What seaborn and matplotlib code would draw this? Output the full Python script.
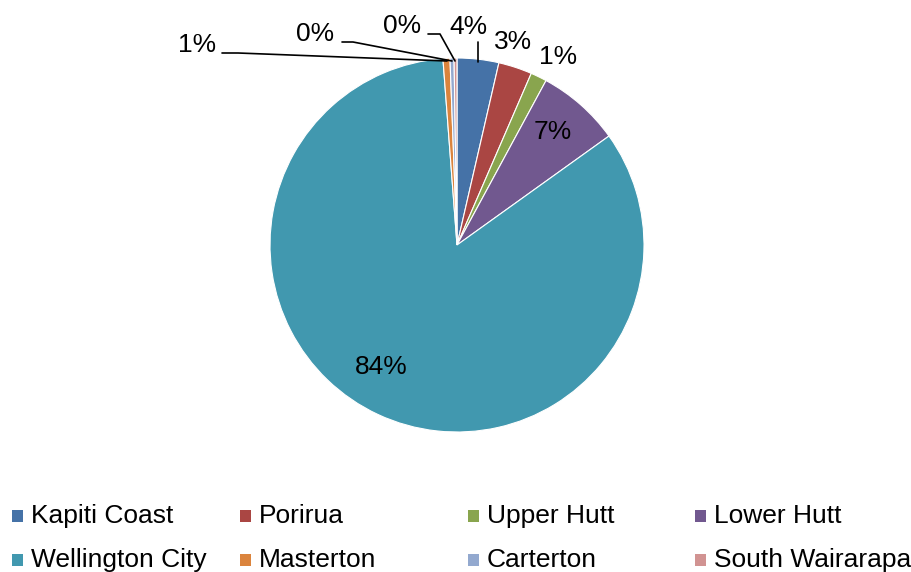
import matplotlib
matplotlib.use("Agg")
import matplotlib.pyplot as plt
import matplotlib.patches as mpatches
import seaborn as sns

# Dados (percentual por região)
regioes = ["Kapiti Coast", "Porirua", "Upper Hutt", "Lower Hutt",
           "Wellington City", "Masterton", "Carterton", "South Wairarapa"]
valores = [3.6, 2.9, 1.4, 7.2, 83.7, 0.6, 0.35, 0.25]
cores = ["#4572A7", "#AA4643", "#89A54E", "#71588F",
         "#4198AF", "#DB843D", "#93A9CF", "#D19392"]

sns.set_theme(style="white")
plt.rcParams["font.family"] = ["Liberation Sans", "DejaVu Sans"]

W, H = 912, 572
CX, CY, R = 457, 245, 187

def px(x, y):
    # pixel da imagem -> coordenadas de dados (raio do pie = 1)
    return (x - CX) / R, (CY - y) / R

fig = plt.figure(figsize=(W / 100, H / 100), dpi=100)
ax = fig.add_axes([0, 0, 1, 1])

wedges, textos = ax.pie(valores, colors=sns.color_palette(cores), startangle=90,
                        counterclock=False, radius=1,
                        wedgeprops=dict(edgecolor="white", linewidth=0.8))

# o pie redefine os limites, então ajusta depois
ax.set_xlim(-CX / R, (W - CX) / R)
ax.set_ylim((CY - H) / R, CY / R)
ax.set_aspect("equal")
ax.axis("off")

# Posições dos rótulos (pixels) e linhas de chamada
pos_rotulos = [(468, 27), (513, 42), (558, 57), (553, 132),
               (381, 367), (197, 45), (315, 34), (402, 26)]
for v, (x, y) in zip(valores, pos_rotulos):
    ax.text(*px(x, y), f"{v:.0f}%", ha="center", va="center",
            fontsize=19, color="black")

linhas = [
    [(478, 42), (478, 62)],
    [(222, 53), (238, 53), (447, 61)],
    [(342, 42), (353, 42), (452, 61)],
    [(428, 34), (440, 34), (455, 61)],
]
for pts in linhas:
    xs, ys = zip(*[px(a, b) for a, b in pts])
    ax.plot(xs, ys, color="black", linewidth=1.2)

# Legenda manual em 4 colunas
col_x = [12, 240, 468, 695]
row_y = [516, 560]
for i, (nome, cor) in enumerate(zip(regioes, cores)):
    x0 = col_x[i % 4]
    y0 = row_y[i // 4]
    fig.patches.append(mpatches.Rectangle((x0 / W, 1 - (y0 + 6) / H), 11 / W, 12 / H,
                                          transform=fig.transFigure, facecolor=cor,
                                          edgecolor="none"))
    fig.text((x0 + 19) / W, 1 - y0 / H, nome, ha="left", va="center",
             fontsize=19, color="black")

fig.savefig("out.png", dpi=100)
